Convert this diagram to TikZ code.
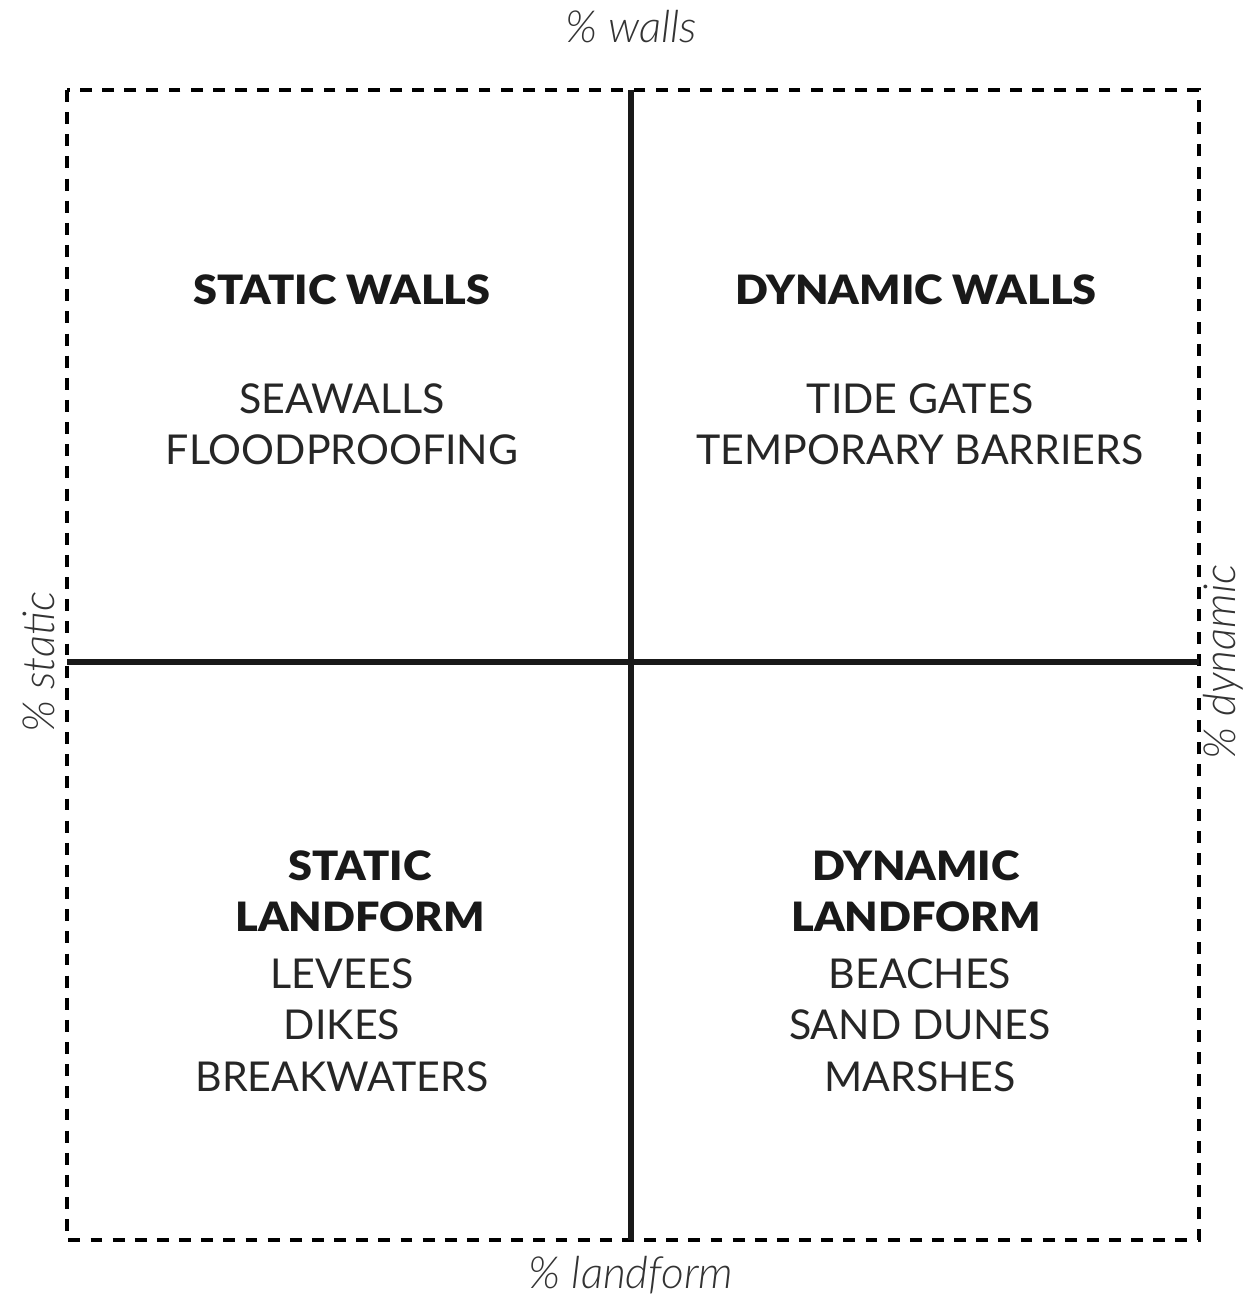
\documentclass[tikz,border=0pt]{standalone}
\usepackage{fontspec}
\setmainfont{Lato}
\newfontfamily\headfont{Lato Black}[FakeStretch=1.07]
\newfontfamily\axisfont{Lato Light Italic}
\usetikzlibrary{positioning}

\begin{document}
\begin{tikzpicture}[
    frame/.style={line width=0.9pt, dash pattern=on 3.4pt off 2.9pt},
    axisline/.style={line width=1.6pt, black!90},
    heading/.style={font=\headfont\fontsize{11.5}{14.5}\selectfont, align=center, text=black!90},
    item/.style={font=\fontsize{11.7}{14.6}\selectfont, align=center, text=black!85},
    axislabel/.style={font=\axisfont\fontsize{12.6}{14}\selectfont, text=black!80}
  ]
        \useasboundingbox (0,0) rectangle (12.42,-13);

        % frame and centre lines
        \coordinate (tl) at (0.67,-0.90);
        \coordinate (br) at (11.99,-12.40);
        \coordinate (mid) at (6.31,-6.62);
        \draw[frame] (tl) rectangle (br);
        \draw[axisline] (mid |- tl) -- (mid |- br);
        \draw[axisline] (tl |- mid) -- (br |- mid);

        % axis labels
        \node[axislabel] (walls) at (6.31,-0.27) {\% walls};
        \node[axislabel] (landform) at (6.31,-12.75) {\% landform};
        \node[axislabel, rotate=90] (static) at (0.39,-6.62) {\% static};
        \node[axislabel, rotate=90, inner sep=1pt] (dynamic) at (12.23,-6.62) {\% dynamic};

        % top left
        \node[heading] (sw) at (3.42,-2.90) {STATIC WALLS};
        \node[item] (swlist) at (3.42,-4.24) {SEAWALLS\\FLOODPROOFING};

        % top right
        \node[heading] (dw) at (9.16,-2.90) {DYNAMIC WALLS};
        \node[item] (dwlist) at (9.20,-4.24) {TIDE GATES\\TEMPORARY BARRIERS};

        % bottom left
        \node[heading] (sl) at (3.60,-8.91) {STATIC\\LANDFORM};
        \node[item] (sllist) at (3.42,-10.25) {LEVEES\\DIKES\\BREAKWATERS};

        % bottom right
        \node[heading] (dl) at (9.16,-8.91) {DYNAMIC\\LANDFORM};
        \node[item] (dllist) at (9.20,-10.25) {BEACHES\\SAND DUNES\\MARSHES};
\end{tikzpicture}
\end{document}
